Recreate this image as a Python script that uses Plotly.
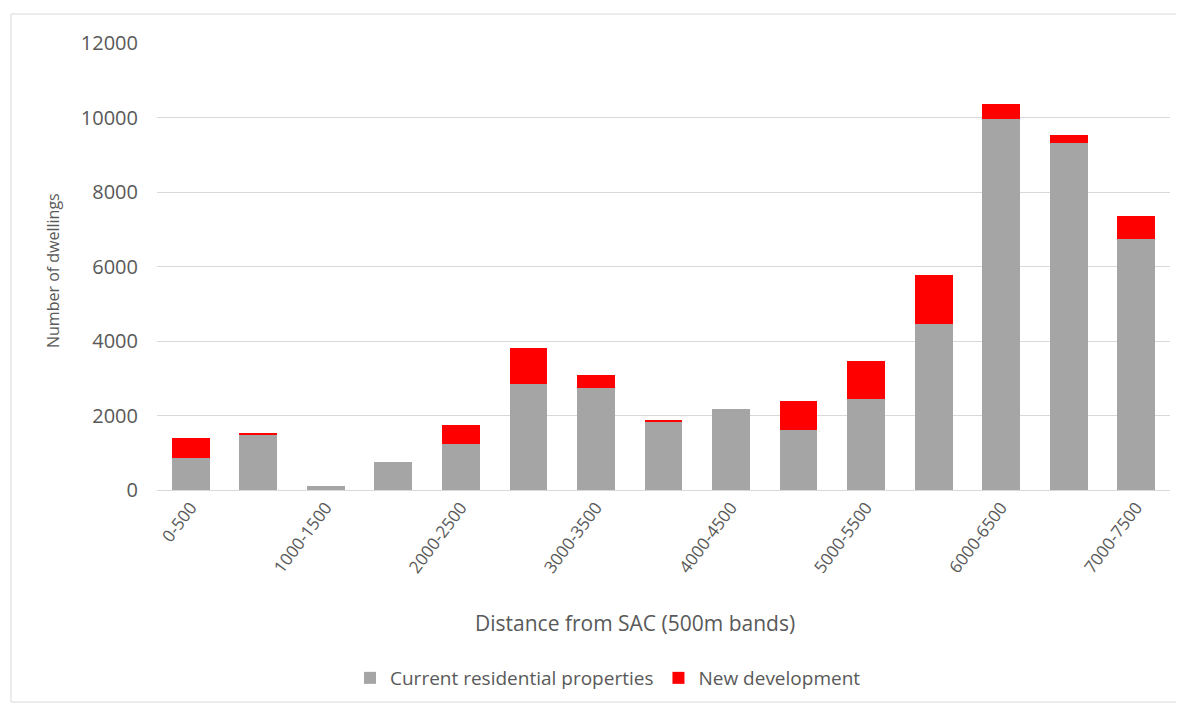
import plotly.graph_objects as go

categories = ["0-500", "500-1000", "1000-1500", "1500-2000", "2000-2500", "2500-3000",
              "3000-3500", "3500-4000", "4000-4500", "4500-5000", "5000-5500", "5500-6000",
              "6000-6500", "6500-7000", "7000-7500"]
current = [860, 1500, 120, 750, 1235, 2845, 2740, 1840, 2175, 1610, 2440, 4456, 9950, 9315, 6740]
new_dev = [540, 30, 0, 0, 510, 965, 350, 40, 0, 780, 1020, 1314, 410, 215, 615]
tick_labels = categories[::2]

W, H = 1184, 704
OFF = 8  # page body margin offset
L, R, T, B = 157 - OFF, W - 1170 + OFF, 43 - OFF, H - 490 + OFF
pw, ph = W - L - R, H - T - B


def px_x(x):
    return (x - OFF - L) / pw


def px_y(y):
    return (H - B - (y - OFF)) / ph


fig = go.Figure()
fig.add_trace(go.Bar(x=categories, y=current, name="Current residential properties",
                     marker=dict(color="#a5a5a5", line=dict(width=0))))
fig.add_trace(go.Bar(x=categories, y=new_dev, name="New development",
                     marker=dict(color="#ff0000", line=dict(width=0))))

font = "Open Sans, Liberation Sans, sans-serif"
fig.update_layout(
    barmode="stack",
    bargap=0.44,
    width=W, height=H,
    margin=dict(l=L, r=R, t=T, b=B, autoexpand=False),
    paper_bgcolor="white", plot_bgcolor="white",
    font=dict(family=font, color="#595959", size=15),
    legend=dict(orientation="h", x=px_x(608), xanchor="center", y=px_y(678), yanchor="middle",
                font=dict(size=19, color="#595959"), traceorder="normal",
                itemwidth=30),
    xaxis=dict(tickmode="array", tickvals=tick_labels, ticktext=tick_labels,
               tickangle=-53, showgrid=False, showline=True, linecolor="#d9d9d9",
               linewidth=1, ticks="", tickfont=dict(size=17, color="#595959"),
               automargin=False),
    yaxis=dict(range=[0, 12000], dtick=2000, tickformat="d", showgrid=True, gridcolor="#d9d9d9",
               gridwidth=1, zeroline=False, showline=False, ticks="",
               tickfont=dict(size=20, color="#595959"), ticklabelstandoff=18,
               automargin=False),
    annotations=[
        dict(text="Distance from SAC (500m bands)", xref="paper", yref="paper",
             x=px_x(635), y=px_y(623), xanchor="center", yanchor="middle",
             showarrow=False, font=dict(size=21, color="#595959")),
        dict(text="Number of dwellings", xref="paper", yref="paper",
             x=px_x(53), y=px_y(271), xanchor="center", yanchor="middle", textangle=-90,
             showarrow=False, font=dict(size=16, color="#595959")),
    ],
    shapes=[dict(type="rect", xref="paper", yref="paper",
                 x0=px_x(11), x1=px_x(1180),
                 y0=px_y(702), y1=px_y(14),
                 line=dict(color="#d9d9d9", width=1), layer="below")],
)

fig.write_html("out.html")
